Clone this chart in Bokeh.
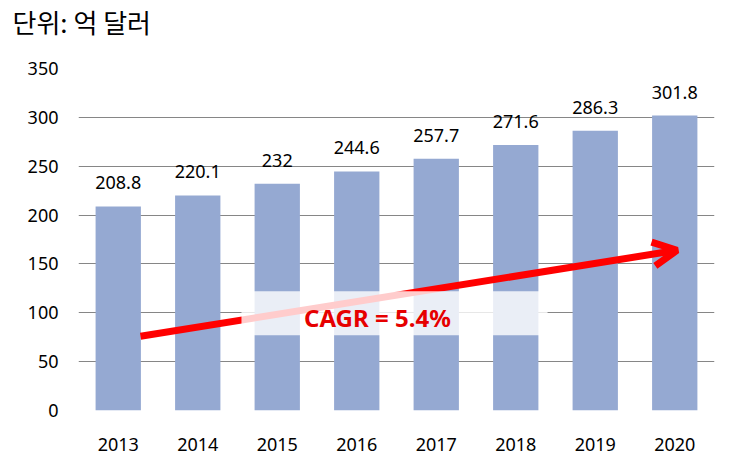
from bokeh.plotting import figure
from bokeh.models import ColumnDataSource, LabelSet, Label, Arrow, OpenHead, BoxAnnotation, FactorRange, Title
from bokeh.core.properties import value
from bokeh.embed import file_html
from bokeh.resources import INLINE

years = ["2013", "2014", "2015", "2016", "2017", "2018", "2019", "2020"]
values = [208.8, 220.1, 232, 244.6, 257.7, 271.6, 286.3, 301.8]
labels = ["208.8", "220.1", "232", "244.6", "257.7", "271.6", "286.3", "301.8"]
y_ticks = [0, 50, 100, 150, 200, 250, 300, 350]
unit_text = "단위: 억 달러"
cagr_text = "CAGR = 5.4%"
# trend arrow (value axis)
arrow_y_start = 76
arrow_y_end = 164
band_bottom = 77
band_top = 122
cagr_y = 95

FONT = "Noto Sans"
KFONT = "Noto Sans CJK KR"
BAR = "#95A9D2"

src = ColumnDataSource(dict(x=years, top=values, lab=labels))

p = figure(x_range=FactorRange(*years), y_range=(0, 350),
           width=736, height=466,
           min_border_left=78, min_border_right=22, min_border_top=0, min_border_bottom=56,
           output_backend="svg", toolbar_location=None, tools="")
p.title_location = None

spacer = Title(text=" ", text_font_size="1px", standoff=22)
p.add_layout(spacer, "above")
main_title = Title(text=unit_text, align="left", offset=-66, standoff=4, vertical_align="top",
                   text_font=KFONT, text_font_size="26px", text_font_style="normal",
                   text_color="#000000")
p.add_layout(main_title, "above")

p.vbar(x="x", top="top", width=0.57, source=src, fill_color=BAR, line_color=None)

p.xgrid.grid_line_color = None
p.ygrid.grid_line_color = "#868686"
p.ygrid.grid_line_width = 1
p.outline_line_color = None

p.yaxis.ticker = y_ticks
for ax in (p.xaxis, p.yaxis):
    ax.axis_line_color = None
    ax.major_tick_line_color = None
    ax.minor_tick_line_color = None
    ax.major_label_text_font = FONT
    ax.major_label_text_font_size = "18px"
    ax.major_label_text_color = "#000000"
p.yaxis.major_label_standoff = 14
p.xaxis.major_label_standoff = 21

p.add_layout(LabelSet(x="x", y="top", text="lab", source=src, text_align="center",
                      text_baseline="alphabetic", y_offset=17, text_font=value(FONT),
                      text_font_size=value("18px"), text_color="#000000"))

arrow = Arrow(end=OpenHead(line_color="#FF0000", line_width=7, size=24),
              x_start=0.78, y_start=arrow_y_start, x_end=7.53, y_end=arrow_y_end,
              line_color="#FF0000", line_width=7)
p.add_layout(arrow)

box = BoxAnnotation(left=2.05, right=5.9, bottom=band_bottom, top=band_top,
                    fill_color="white", fill_alpha=0.8, line_color=None)
p.add_layout(box)

p.add_layout(Label(x=3.76, y=cagr_y, text=cagr_text, text_align="center", text_baseline="middle",
                   text_font=FONT, text_font_style="bold", text_font_size="24px",
                   text_color="#E60000"))

open("out.html", "w").write(file_html(p, INLINE))
